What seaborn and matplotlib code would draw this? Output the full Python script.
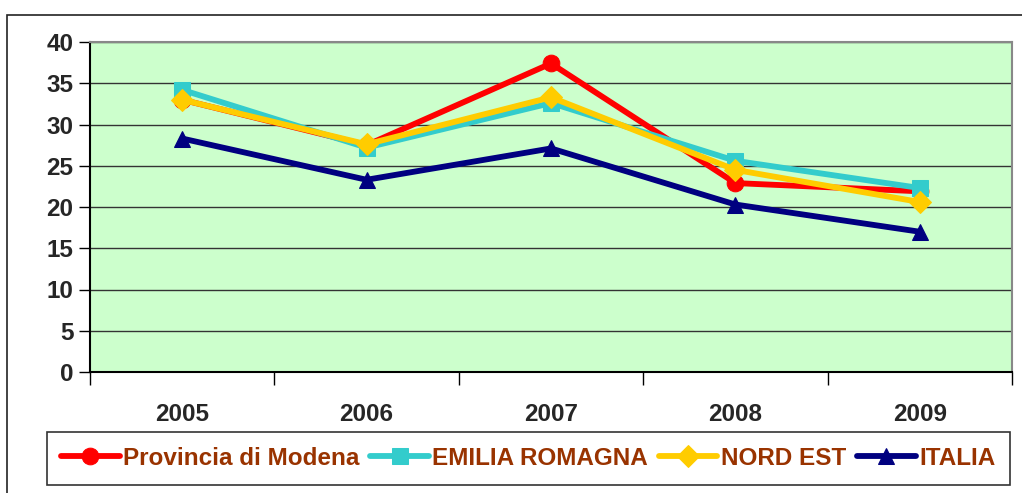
import pandas as pd
import matplotlib.pyplot as plt
import seaborn as sns
from matplotlib.patches import Rectangle

years = ['2005', '2006', '2007', '2008', '2009']
modena = [33.0, 27.5, 37.4, 22.9, 21.9]
emilia = [34.2, 27.2, 32.6, 25.6, 22.3]
nord_est = [33.0, 27.6, 33.3, 24.5, 20.6]
italia = [28.3, 23.3, 27.1, 20.3, 17.0]

series = [
    ('Provincia di Modena', modena, '#FF0000', 'o'),
    ('EMILIA ROMAGNA', emilia, '#33CCCC', 's'),
    ('NORD EST', nord_est, '#FFCC00', 'D'),
    ('ITALIA', italia, '#000080', '^'),
]

sns.set_style('white')
plt.rcParams['font.family'] = ['Liberation Sans', 'DejaVu Sans']
plt.rcParams['font.weight'] = 'bold'

fig = plt.figure(figsize=(10.22, 4.93), dpi=100)
# outer chart frame
fig.patches.append(Rectangle((7 / 1022, -0.1), 1.2, (493 - 15) / 493 + 0.1,
                             transform=fig.transFigure, fill=False,
                             edgecolor='#222222', lw=1.2))

ax = fig.add_axes([90 / 1022, 1 - 372 / 493, (1012 - 90) / 1022, (372 - 42) / 493])
ax.set_facecolor('#CCFFCC')

for name, vals, col, mk in series:
    df = pd.DataFrame({'x': range(len(years)), 'y': vals})
    sns.lineplot(data=df, x='x', y='y', ax=ax, color=col, marker=mk,
                 markersize=12 if mk != 'D' else 11, markeredgecolor=col,
                 linewidth=4.2, label=name)

ax.set_xlim(-0.5, len(years) - 0.5)
ax.set_ylim(0, 40)
ax.set_yticks(range(0, 41, 5))
ax.yaxis.grid(True, color='#333333', lw=1)
ax.set_axisbelow(True)

ax.set_xticks([i - 0.5 for i in range(len(years) + 1)])
ax.set_xticklabels([])
ax.set_xticks(range(len(years)), minor=True)
ax.set_xticklabels(years, minor=True, fontsize=17.5, fontweight='bold')
ax.tick_params(axis='x', which='major', direction='out', length=9, color='black', width=1, bottom=True)
ax.tick_params(axis='x', which='minor', length=0, pad=22)
ax.tick_params(axis='y', direction='out', length=8, color='black', width=1, left=True,
               labelsize=17.5, pad=4)
for lab in ax.get_yticklabels():
    lab.set_fontweight('bold')

ax.set_xlabel('')
ax.set_ylabel('')
ax.spines['left'].set_color('black')
ax.spines['bottom'].set_color('black')
ax.spines['top'].set_color('#888888')
ax.spines['right'].set_color('#888888')
for s in ax.spines.values():
    s.set_linewidth(1.5)

ax.get_legend().remove()
handles, labels = ax.get_legend_handles_labels()
leg = fig.legend(handles, labels, loc='center', bbox_to_anchor=(0.517, 0.07),
                 ncol=4, frameon=True, fancybox=False, edgecolor='black',
                 prop={'size': 17.5, 'weight': 'bold'}, handlelength=2.4,
                 handletextpad=0.15, columnspacing=0.45, borderpad=0.6,
                 borderaxespad=0)
leg.get_frame().set_linewidth(1.2)
for t in leg.get_texts():
    t.set_color('#993300')

fig.savefig('out.png', dpi=100)
